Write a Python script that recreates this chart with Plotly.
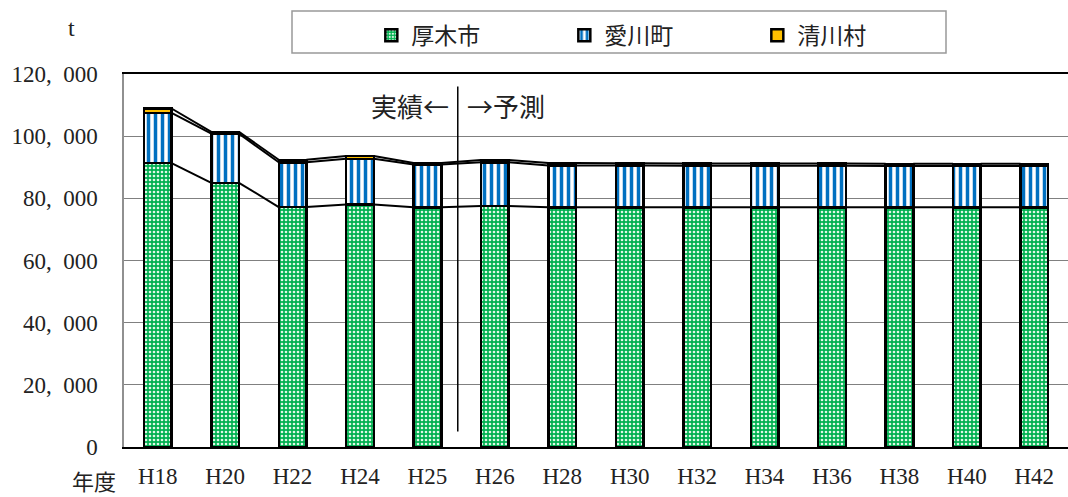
import plotly.graph_objects as go

# Fiscal years (Heisei) and tonnage per municipality
years = ["H18", "H20", "H22", "H24", "H25", "H26", "H28",
         "H30", "H32", "H34", "H36", "H38", "H40", "H42"]
atsugi = [91300, 85000, 77200, 78000, 77100, 77500, 77100,
          77100, 77100, 77100, 77100, 77100, 77100, 77100]
aikawa = [16200, 15800, 14400, 14700, 13800, 14100, 13500,
          13500, 13400, 13400, 13400, 13300, 13300, 13300]
kiyokawa = [1400, 600, 800, 900, 500, 700, 800,
            700, 700, 700, 700, 700, 700, 700]

y_ticks = [0, 20000, 40000, 60000, 80000, 100000, 120000]
split_pos = 4.45          # boundary between actual and forecast years
split_span = [5000, 116000]

BAR_W = 0.41
SERIF = "Liberation Serif, DejaVu Serif, serif"
JP = "Noto Sans CJK JP, sans-serif"
TXT = "#222222"

# plot area in pixels
L, T, B = 124, 74, 50
PW, PH = 1068 - L, 497 - T - B


def px(x):
    return (x - L) / PW


def py(y):
    return (497 - B - y) / PH


xs = list(range(len(years)))

fig = go.Figure()

series = [
    ("厚木市", atsugi, dict(shape=".", bgcolor="#00b050", fgcolor="#dff7e6",
                          size=4, solidity=0.35, fillmode="replace")),
    ("愛川町", aikawa, dict(shape="|", bgcolor="#ffffff", fgcolor="#0070c0",
                          size=7, solidity=0.5, fillmode="replace")),
    ("清川村", kiyokawa, None),
]

for name, vals, pat in series:
    marker = dict(line=dict(color="#000000", width=2.5))
    if pat:
        marker["pattern"] = pat
        marker["color"] = pat["bgcolor"]
    else:
        marker["color"] = "#ffc000"
    fig.add_trace(go.Bar(x=xs, y=vals, name=name, width=BAR_W,
                         marker=marker, hoverinfo="skip"))

# connector lines between the tops of each stacked segment
levels = []
run = [0] * len(years)
for vals in (atsugi, aikawa, kiyokawa):
    run = [a + b for a, b in zip(run, vals)]
    levels.append(run)

for lev in levels:
    lx, ly = [], []
    for i in range(len(years) - 1):
        lx += [xs[i] + BAR_W / 2, xs[i + 1] - BAR_W / 2, None]
        ly += [lev[i], lev[i + 1], None]
    fig.add_trace(go.Scatter(x=lx, y=ly, mode="lines", showlegend=False,
                             line=dict(color="#000000", width=2),
                             hoverinfo="skip"))

# actual / forecast divider
fig.add_trace(go.Scatter(x=[split_pos, split_pos], y=split_span, mode="lines",
                         showlegend=False, line=dict(color="#000000", width=1.5),
                         hoverinfo="skip"))

fig.update_layout(
    width=1068, height=497,
    margin=dict(l=L, r=0, t=T, b=B),
    barmode="stack",
    plot_bgcolor="#ffffff", paper_bgcolor="#ffffff",
    font=dict(family=SERIF, size=22, color=TXT),
    showlegend=True,
    legend=dict(orientation="h", x=0.262, xanchor="left",
                y=0.972, yref="container", yanchor="top",
                font=dict(family=JP, size=23, color=TXT),
                entrywidth=148, bgcolor="rgba(0,0,0,0)", borderwidth=0,
                traceorder="normal"),
)

fig.update_xaxes(
    range=[-0.5, len(years) - 0.5],
    tickvals=xs, ticktext=years,
    showgrid=False, zeroline=False,
    showline=True, linecolor="#000000", linewidth=2, mirror=True,
    ticks="", ticklabelstandoff=7,
    tickfont=dict(family=SERIF, size=23, color=TXT),
)
fig.update_yaxes(
    range=[0, 120000],
    tickvals=y_ticks,
    ticktext=[f"{v:,}".replace(",", ",\u2002") for v in y_ticks],
    showgrid=True, gridcolor="#808080", gridwidth=1,
    zeroline=False,
    showline=True, linecolor="#909090", linewidth=1.5,
    ticks="", ticklabelstandoff=20,
    tickfont=dict(family=SERIF, size=23, color=TXT),
)

# legend frame
fig.add_shape(type="rect", xref="paper", yref="paper",
              x0=px(292), x1=px(946), y0=py(53), y1=py(11),
              line=dict(color="#999999", width=1.5), fillcolor="rgba(0,0,0,0)",
              layer="below")

fig.add_annotation(x=split_pos - 0.1, y=110000, xref="x", yref="y",
                   text="実績←", showarrow=False,
                   xanchor="right", yanchor="middle",
                   font=dict(family=JP, size=26, color=TXT))
fig.add_annotation(x=split_pos + 0.1, y=110000, xref="x", yref="y",
                   text="→予測", showarrow=False,
                   xanchor="left", yanchor="middle",
                   font=dict(family=JP, size=26, color=TXT))
fig.add_annotation(x=px(71), y=py(28), xref="paper", yref="paper",
                   text="t", showarrow=False,
                   xanchor="center", yanchor="middle",
                   font=dict(family=SERIF, size=24, color=TXT))
fig.add_annotation(x=px(94), y=py(480), xref="paper", yref="paper",
                   text="年度", showarrow=False,
                   xanchor="center", yanchor="middle", borderpad=0,
                   font=dict(family=JP, size=22, color=TXT))

fig.write_html("out.html")
